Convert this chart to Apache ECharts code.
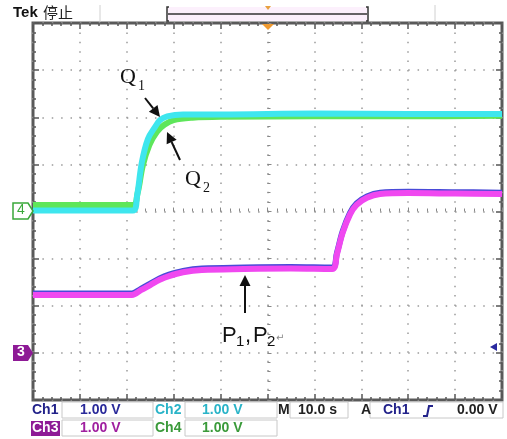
<!DOCTYPE html>
<html>
<head>
<meta charset="utf-8">
<script src="https://cdn.jsdelivr.net/npm/echarts@6/dist/echarts.min.js"></script>
<style>
  html, body { margin: 0; padding: 0; background: #fff; }
  #main { width: 507px; height: 439px; }
</style>
</head>
<body>
<div id="main"></div>
<script>
// scope readout, 10 s/div horizontally, 1 V/div vertically
const timeRange = [0, 100]
const divRange = [-4, 4]

// traces: [time (s), level (div from screen centre)]
const q2Green = [[0, 0.14], [21.3, 0.14], [22.3, 0.39], [23.4, 0.97], [24.8, 1.41], [26.4, 1.69], [28, 1.84], [30, 1.94], [34, 1.99], [40, 2.01], [60, 2.02], [80, 2.02], [100, 2.03]]
const q1Cyan = [[0, 0.02], [21.3, 0.02], [22.2, 0.34], [23.2, 1.04], [24.5, 1.54], [26, 1.79], [27.1, 1.94], [28.6, 2.02], [32, 2.06], [40, 2.06], [60, 2.08], [80, 2.07], [100, 2.07]]
const p1Blue = [[0, -1.74], [21.1, -1.74], [23, -1.64], [25, -1.53], [27, -1.42], [29, -1.34], [32, -1.26], [36, -1.21], [45, -1.19], [55, -1.18], [63.8, -1.19], [64.8, -0.88], [66, -0.43], [67.6, -0.03], [69, 0.17], [71.2, 0.32], [74, 0.4], [80, 0.42], [90, 0.41], [100, 0.4]]
const p2Magenta = [[0, -1.77], [21.1, -1.77], [23, -1.67], [25, -1.56], [27, -1.45], [29, -1.37], [32, -1.29], [36, -1.24], [45, -1.22], [55, -1.21], [63.8, -1.22], [64.8, -0.91], [66, -0.46], [67.6, -0.06], [69, 0.14], [71.2, 0.29], [74, 0.37], [80, 0.39], [90, 0.38], [100, 0.37]]

const chart = echarts.init(document.getElementById('main'))

function arrow(x1, y1, x2, y2) {
  // tail (x1,y1) -> tip (x2,y2)
  var dx = x2 - x1, dy = y2 - y1
  var len = Math.sqrt(dx * dx + dy * dy)
  var ux = dx / len, uy = dy / len
  var bx = x2 - ux * 11, by = y2 - uy * 11
  var px = -uy, py = ux
  return [
    { type: 'polyline', shape: { points: [[x1, y1], [bx, by]] }, style: { stroke: '#111', lineWidth: 2 }, z: 100 },
    { type: 'polygon', shape: { points: [[x2, y2], [bx + px * 5.5, by + py * 5.5], [bx - px * 5.5, by - py * 5.5]] }, style: { fill: '#111' }, z: 100 }
  ]
}

function txt(x, y, text, font, color) {
  return { type: 'text', x: x, y: y, style: { text: text, font: font, fill: color }, z: 100 }
}

function box(x, y, w, h) {
  return { type: 'rect', shape: { x: x, y: y, width: w, height: h }, style: { fill: '#fff', stroke: '#c8c8c8', lineWidth: 1 }, z: 90 }
}

const lab = 'bold 14px "Liberation Sans"'
const serif = '22px "Liberation Serif"'
const sub = '14px "Liberation Serif"'
const sans = '22px "Liberation Sans"'
const sansSub = '15px "Liberation Sans"'

var graphics = [
  // header
  txt(13, 5, 'Tek', 'bold 15px "Liberation Sans"', '#111'),
  txt(43, 5, '停止', '15px "Noto Sans CJK SC"', '#222'),
  { type: 'polyline', shape: { points: [[100, 5], [100, 22]] }, style: { stroke: '#d0d0d0', lineWidth: 1 } },
  { type: 'polyline', shape: { points: [[435, 5], [435, 22]] }, style: { stroke: '#d0d0d0', lineWidth: 1 } },
  { type: 'rect', shape: { x: 168, y: 7, width: 199, height: 14 }, style: { fill: '#fcf0fc' } },
  { type: 'polyline', shape: { points: [[168, 14], [367, 14]] }, style: { stroke: '#333', lineWidth: 1.5 } },
  { type: 'polyline', shape: { points: [[169, 7], [167, 7], [167, 21], [169, 21]] }, style: { stroke: '#333', lineWidth: 1.5 } },
  { type: 'polyline', shape: { points: [[366, 7], [368, 7], [368, 21], [366, 21]] }, style: { stroke: '#333', lineWidth: 1.5 } },
  { type: 'polygon', shape: { points: [[265, 6], [271, 6], [268, 10]] }, style: { fill: '#e8a040' } },
  { type: 'polygon', shape: { points: [[262, 24], [274, 24], [268, 30]] }, style: { fill: '#f09a30' }, z: 100 },
  // channel markers
  { type: 'polygon', shape: { points: [[13, 203], [28, 203], [33, 211], [28, 219], [13, 219]] }, style: { fill: '#fff', stroke: '#3aa83a', lineWidth: 1.5 }, z: 100 },
  txt(17, 203, '4', '14px "Liberation Sans"', '#3aa83a'),
  { type: 'polygon', shape: { points: [[13, 345], [28, 345], [33, 353], [28, 361], [13, 361]] }, style: { fill: '#8e1a96' }, z: 100 },
  txt(17, 345, '3', 'bold 14px "Liberation Sans"', '#fff'),
  { type: 'polygon', shape: { points: [[490, 347], [497, 343], [497, 351]] }, style: { fill: '#2a2aa0' }, z: 100 },
  // status rows
  box(62, 402, 91, 16), box(185, 402, 92, 16), box(290, 402, 58, 16), box(370, 402, 133, 16),
  box(62, 420, 91, 16), box(185, 420, 92, 16),
  txt(32, 403, 'Ch1', lab, '#22228a'),
  txt(80, 403, '1.00 V', lab, '#2a2a9a'),
  txt(155, 403, 'Ch2', lab, '#2ab4c8'),
  txt(202, 403, '1.00 V', lab, '#2ab4c8'),
  txt(278, 403, 'M', lab, '#222'),
  txt(298, 403, '10.0 s', lab, '#222'),
  txt(361, 403, 'A', lab, '#222'),
  txt(383, 403, 'Ch1', lab, '#22228a'),
  { type: 'polyline', shape: { points: [[423, 416], [427, 416], [429, 406], [433, 406]] }, style: { stroke: '#22228a', lineWidth: 2 }, z: 100 },
  txt(457, 403, '0.00 V', lab, '#222'),
  { type: 'rect', shape: { x: 31, y: 421, width: 29, height: 15 }, style: { fill: '#8e1a96' }, z: 95 },
  txt(32, 421, 'Ch3', lab, '#fff'),
  txt(80, 421, '1.00 V', lab, '#a020a0'),
  txt(155, 421, 'Ch4', lab, '#3a9a3a'),
  txt(202, 421, '1.00 V', lab, '#3a9a3a'),
  // annotations
  txt(120, 66, 'Q', serif, '#111'),
  txt(138, 79, '1', sub, '#111'),
  txt(185, 168, 'Q', serif, '#111'),
  txt(203, 181, '2', sub, '#111'),
  txt(222, 325, 'P', sans, '#111'),
  txt(236, 334, '1', sansSub, '#111'),
  txt(245, 325, ',', sans, '#111'),
  txt(253, 325, 'P', sans, '#111'),
  txt(267, 334, '2', sansSub, '#111'),
  txt(276, 333, '↵', '10px "DejaVu Sans"', '#888')
]
graphics = graphics.concat(arrow(145, 98, 160, 117), arrow(180, 160, 167, 132), arrow(245, 313, 245, 275))

var dots = { show: true, lineStyle: { color: '#9a9a9a', width: 1.5, type: [1.5, 7.88] } }
var edgeTick = { show: true, inside: true, length: 6, lineStyle: { color: '#555', width: 1.5 } }
var edgeMinor = { show: true, splitNumber: 5, length: 3, lineStyle: { color: '#555', width: 1.5 } }
var midTick = { show: true, inside: true, length: 4, lineStyle: { color: '#888' } }
var midMinor = { show: true, splitNumber: 5, length: 3, lineStyle: { color: '#888' } }

function xAx(pos, extra) {
  return Object.assign({
    type: 'value', position: pos, min: timeRange[0], max: timeRange[1], interval: 10,
    axisLine: { show: false, onZero: false }, axisLabel: { show: false },
    axisTick: edgeTick, minorTick: edgeMinor, splitLine: { show: false }
  }, extra || {})
}
function yAx(pos, extra) {
  return Object.assign({
    type: 'value', position: pos, min: divRange[0], max: divRange[1], interval: 1,
    axisLine: { show: false, onZero: false }, axisLabel: { show: false },
    axisTick: edgeTick, minorTick: edgeMinor, splitLine: { show: false }
  }, extra || {})
}

function trace(name, data, color, w) {
  return {
    name: name, type: 'line', data: data, showSymbol: false, smooth: 0.35,
    lineStyle: { color: color, width: w }, itemStyle: { color: color }, animation: false
  }
}

chart.setOption({
  animation: false,
  backgroundColor: '#fff',
  grid: { left: 33, top: 23, width: 469, height: 377, show: true, borderColor: '#5a5a5a', borderWidth: 3, backgroundColor: '#fff' },
  xAxis: [
    xAx('bottom', { splitLine: dots }),
    xAx('top'),
    xAx('bottom', { offset: -188.5, axisTick: midTick, minorTick: midMinor })
  ],
  yAxis: [
    yAx('left', { splitLine: dots }),
    yAx('right'),
    yAx('left', { offset: -234.5, axisTick: midTick, minorTick: midMinor })
  ],
  series: [
    trace('Q2', q2Green, '#5ee65a', 6),
    trace('Q1', q1Cyan, '#3ee6ee', 6),
    trace('P1', p1Blue, '#4a4ad8', 6),
    trace('P2', p2Magenta, '#f048f0', 6)
  ],
  graphic: graphics
})
</script>
</body>
</html>
